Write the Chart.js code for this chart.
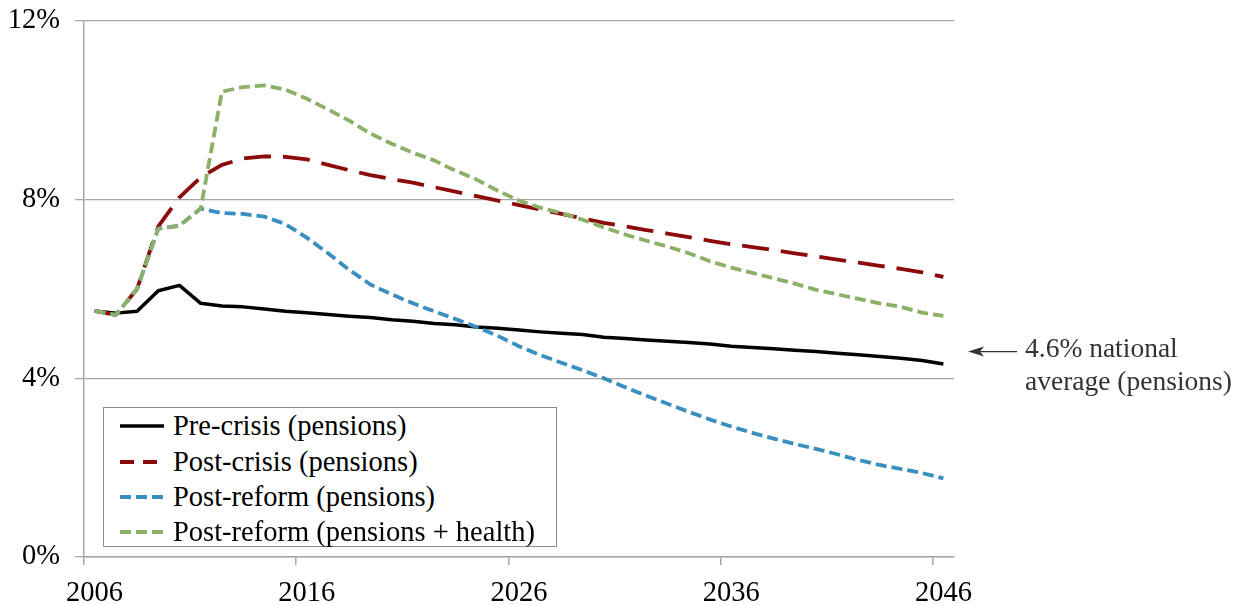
<!DOCTYPE html>
<html>
<head>
<meta charset="utf-8">
<script src="https://cdn.jsdelivr.net/npm/chart.js@4.4.1/dist/chart.umd.min.js"></script>
<style>
  html, body { margin: 0; padding: 0; background: #fff; }
  #wrap { position: relative; width: 1246px; height: 605px; }
  #legend {
    position: absolute; left: 103px; top: 407px; width: 452px; height: 138px;
    border: 1.5px solid #8c8c8c; background: #fff;
    font-family: "Liberation Serif", serif; font-size: 28.5px; color: #000;
  }
  .item { position: absolute; left: 16px; height: 30px; display: flex; align-items: center; white-space: nowrap; }
  .item svg { margin-right: 9px; }
</style>
</head>
<body>
<div id="wrap">
  <canvas id="c" width="1246" height="605"></canvas>
  <div id="legend"></div>
</div>
<script>
const years = ["2006","2007","2008","2009","2010","2011","2012","2013","2014","2015",
  "2016","2017","2018","2019","2020","2021","2022","2023","2024","2025",
  "2026","2027","2028","2029","2030","2031","2032","2033","2034","2035",
  "2036","2037","2038","2039","2040","2041","2042","2043","2044","2045","2046"];
const shownYears = ["2006","2016","2026","2036","2046"];
const yTicks = [0, 4, 8, 12];

const preCrisis = [5.51,5.46,5.50,5.96,6.08,5.68,5.62,5.60,5.55,5.50,
  5.47,5.43,5.39,5.36,5.31,5.28,5.23,5.20,5.15,5.12,
  5.08,5.04,5.01,4.98,4.92,4.89,4.86,4.83,4.80,4.77,
  4.72,4.69,4.66,4.63,4.60,4.56,4.53,4.49,4.45,4.40,4.32];
const postCrisis = [5.51,5.42,6.00,7.40,8.05,8.50,8.78,8.92,8.97,8.96,
  8.90,8.78,8.66,8.55,8.46,8.38,8.28,8.18,8.08,7.98,
  7.88,7.78,7.68,7.58,7.48,7.40,7.32,7.24,7.16,7.08,
  7.00,6.94,6.87,6.80,6.73,6.66,6.59,6.52,6.45,6.37,6.27];
const postReform = [5.51,5.42,6.00,7.35,7.42,7.80,7.70,7.68,7.62,7.45,
  7.15,6.80,6.43,6.10,5.88,5.68,5.50,5.33,5.15,4.95,
  4.72,4.52,4.35,4.18,4.00,3.80,3.61,3.43,3.25,3.08,
  2.92,2.78,2.65,2.53,2.42,2.30,2.17,2.06,1.97,1.88,1.76];
const postReformHealth = [5.51,5.42,6.00,7.35,7.42,7.80,10.42,10.52,10.56,10.46,
  10.26,10.02,9.77,9.48,9.25,9.05,8.88,8.65,8.45,8.20,
  7.98,7.82,7.70,7.55,7.38,7.22,7.08,6.95,6.80,6.62,
  6.48,6.36,6.24,6.12,5.98,5.88,5.78,5.68,5.60,5.47,5.40];

const seriesNames = ["Pre-crisis (pensions)", "Post-crisis (pensions)",
  "Post-reform (pensions)", "Post-reform (pensions + health)"];
const annotationValue = 4.6;
const annotationLines = ["4.6% national", "average (pensions)"];

const FONT = "Liberation Serif";
const styles = [
  { color: "#000000", width: 3.5, dash: [] },
  { color: "#8c0a0a", width: 3.8, dash: [27, 12] },
  { color: "#3a8fc1", width: 3.8, dash: [11, 5] },
  { color: "#8cb068", width: 3.8, dash: [11, 5] }
];
const seriesData = [preCrisis, postCrisis, postReform, postReformHealth];

const datasets = seriesData.map((d, i) => ({
  label: seriesNames[i],
  data: d,
  borderColor: styles[i].color,
  borderWidth: styles[i].width,
  borderDash: styles[i].dash,
  borderCapStyle: 'butt',
  borderJoinStyle: 'round',
  pointRadius: 0,
  tension: 0,
  fill: false
})).reverse();

const annotationPlugin = {
  id: 'natAvg',
  afterDraw(chart) {
    const ctx = chart.ctx;
    const y = chart.scales.y.getPixelForValue(annotationValue);
    ctx.save();
    ctx.strokeStyle = '#333';
    ctx.fillStyle = '#333';
    ctx.lineWidth = 1.3;
    ctx.beginPath();
    ctx.moveTo(975, y);
    ctx.lineTo(1017, y);
    ctx.stroke();
    ctx.beginPath();
    ctx.moveTo(968, y);
    ctx.lineTo(984, y - 5);
    ctx.lineTo(980, y);
    ctx.lineTo(984, y + 5);
    ctx.closePath();
    ctx.fill();
    ctx.font = '27.5px "' + FONT + '"';
    ctx.textBaseline = 'middle';
    ctx.textAlign = 'left';
    ctx.fillText(annotationLines[0], 1025, y - 2);
    ctx.fillText(annotationLines[1], 1025, y + 31);
    ctx.restore();
  }
};

new Chart(document.getElementById('c'), {
  type: 'line',
  data: { labels: years, datasets },
  options: {
    responsive: false,
    animation: false,
    devicePixelRatio: 1,
    layout: { padding: { top: 21, right: 292, bottom: 0, left: 0 } },
    plugins: { legend: { display: false }, tooltip: { enabled: false } },
    scales: {
      x: {
        type: 'category',
        offset: true,
        afterFit(scale) { scale.height = 48; scale.paddingLeft = 0; scale.paddingRight = 0; },
        grid: {
          offset: true,
          drawOnChartArea: false,
          drawTicks: true,
          tickLength: 8,
          lineWidth: 1.5,
          color: (c) => (c.index !== undefined && c.index % 10 === 0) ? '#a6a6a6' : 'rgba(0,0,0,0)'
        },
        border: { display: true, color: '#a6a6a6', width: 1.5 },
        ticks: {
          autoSkip: false,
          maxRotation: 0,
          padding: 11,
          color: '#000',
          font: { family: FONT, size: 28.5 },
          callback: function (v, i) {
            const lab = this.getLabelForValue(v);
            return shownYears.includes(lab) ? lab : '';
          }
        }
      },
      y: {
        min: 0, max: 12,
        afterFit(scale) { scale.width = 84; scale.paddingTop = 0; scale.paddingBottom = 0; },
        afterBuildTicks(scale) { scale.ticks = yTicks.map(v => ({ value: v })); },
        grid: { color: '#a6a6a6', lineWidth: 1.3, tickLength: 9 },
        border: { display: true, color: '#a6a6a6', width: 1.5 },
        ticks: {
          padding: 15,
          color: '#000',
          font: { family: FONT, size: 28.5 },
          callback: (v) => v + '%'
        }
      }
    }
  },
  plugins: [annotationPlugin]
});

const legend = document.getElementById('legend');
const rowTops = [3, 39, 74, 109];
seriesNames.forEach((name, i) => {
  const s = styles[i];
  const div = document.createElement('div');
  div.className = 'item';
  div.style.top = rowTops[i] + 'px';
  div.innerHTML = '<svg width="44" height="10"><line x1="0" y1="5" x2="44" y2="5" stroke="' + s.color +
    '" stroke-width="' + s.width + '" stroke-dasharray="' + (s.dash.length ? (i === 1 ? '14,9' : '11,5') : 'none') +
    '"/></svg><span>' + name + '</span>';
  legend.appendChild(div);
});
</script>
</body>
</html>
